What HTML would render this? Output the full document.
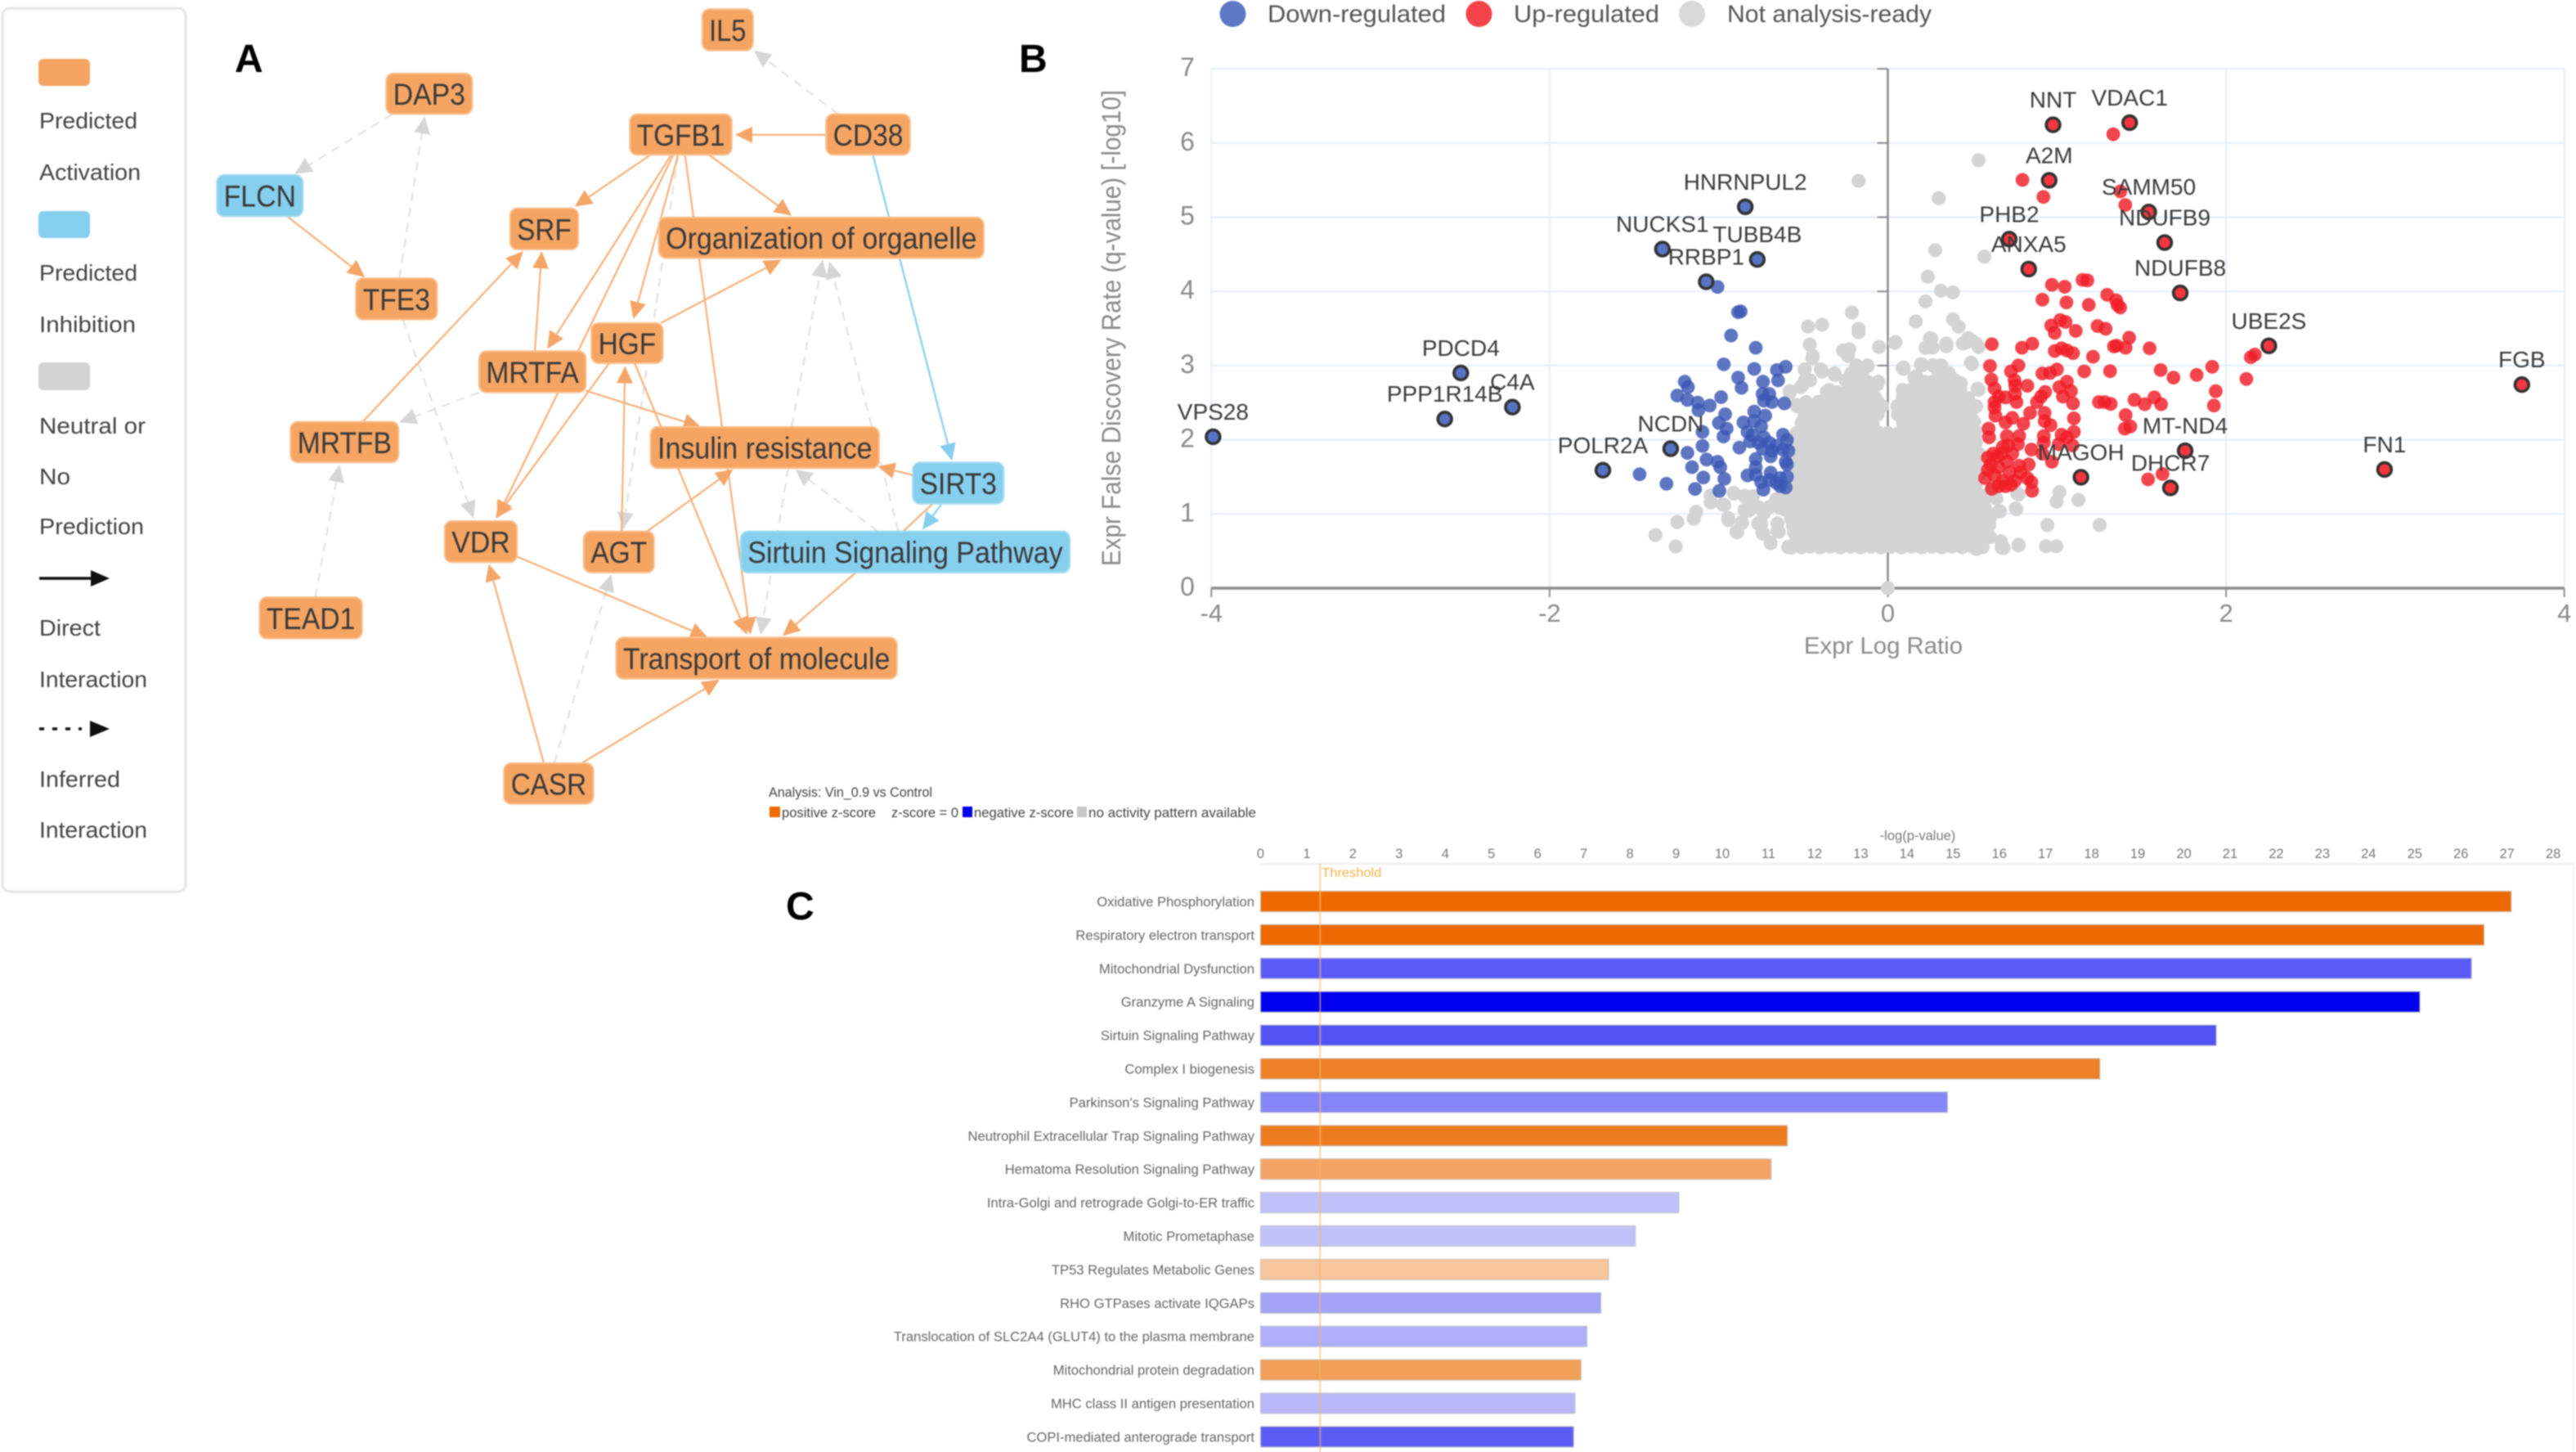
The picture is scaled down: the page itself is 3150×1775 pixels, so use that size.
<!DOCTYPE html>
<html lang="en">
<head>
<meta charset="utf-8">
<title>Network, volcano plot and pathway enrichment</title>
<style>
html,body{margin:0;padding:0;background:#fff;width:3150px;height:1775px;overflow:hidden}
svg{display:block;filter:blur(.7px)}
text{font-family:"Liberation Sans",sans-serif}
</style>
</head>
<body>
<svg id="fig" xmlns="http://www.w3.org/2000/svg" width="3150" height="1775" viewBox="0 0 3150 1775">
<rect width="3150" height="1775" fill="#fff"/>

<g>
<rect x="3" y="10" width="224" height="1080" rx="9" fill="#fff" stroke="#e6e6e6" stroke-width="3"/>
<rect x="47" y="72" width="63" height="33" rx="6" fill="#f5a462"/>
<text x="48" y="157" font-size="28" fill="#444" textLength="120" lengthAdjust="spacingAndGlyphs">Predicted</text>
<text x="48" y="220" font-size="28" fill="#444" textLength="124" lengthAdjust="spacingAndGlyphs">Activation</text>
<rect x="47" y="258" width="63" height="33" rx="6" fill="#86cfee"/>
<text x="48" y="343" font-size="28" fill="#444" textLength="120" lengthAdjust="spacingAndGlyphs">Predicted</text>
<text x="48" y="406" font-size="28" fill="#444" textLength="118" lengthAdjust="spacingAndGlyphs">Inhibition</text>
<rect x="47" y="443" width="63" height="34" rx="6" fill="#d3d3d3"/>
<text x="48" y="530" font-size="28" fill="#444" textLength="130" lengthAdjust="spacingAndGlyphs">Neutral or</text>
<text x="48" y="592" font-size="28" fill="#444" textLength="38" lengthAdjust="spacingAndGlyphs">No</text>
<text x="48" y="653" font-size="28" fill="#444" textLength="128" lengthAdjust="spacingAndGlyphs">Prediction</text>
<line x1="48" y1="707" x2="114" y2="707" stroke="#111" stroke-width="3.5"/>
<polygon points="111,697 134,707 111,717" fill="#111"/>
<text x="48" y="777" font-size="28" fill="#444" textLength="75" lengthAdjust="spacingAndGlyphs">Direct</text>
<text x="48" y="840" font-size="28" fill="#444" textLength="132" lengthAdjust="spacingAndGlyphs">Interaction</text>
<line x1="48" y1="891" x2="100" y2="891" stroke="#111" stroke-width="3.5" stroke-dasharray="6 10"/>
<polygon points="110,881 134,891 110,901" fill="#111"/>
<text x="48" y="962" font-size="28" fill="#444" textLength="99" lengthAdjust="spacingAndGlyphs">Inferred</text>
<text x="48" y="1024" font-size="28" fill="#444" textLength="132" lengthAdjust="spacingAndGlyphs">Interaction</text>
</g>

<text x="287" y="88" font-size="48" font-weight="700" fill="#000">A</text>
<text x="1246" y="88" font-size="48" font-weight="700" fill="#000">B</text>
<text x="961" y="1124" font-size="48" font-weight="700" fill="#000">C</text>

<g id="network"></g>

<g>
<circle cx="1507.5" cy="17" r="16" fill="#5d78c4"/>
<text x="1550" y="27" font-size="30" fill="#555" textLength="218" lengthAdjust="spacingAndGlyphs">Down-regulated</text>
<circle cx="1808.5" cy="17" r="16" fill="#f5434b"/>
<text x="1851" y="27" font-size="30" fill="#555" textLength="178" lengthAdjust="spacingAndGlyphs">Up-regulated</text>
<circle cx="2069" cy="17" r="16" fill="#d9d9d9"/>
<text x="2112" y="27" font-size="30" fill="#555" textLength="250" lengthAdjust="spacingAndGlyphs">Not analysis-ready</text>
</g>
<g id="volcano"></g>
<text x="0" y="0" transform="translate(1370,401) rotate(-90)" text-anchor="middle" font-size="32" fill="#8a8a8a" textLength="582" lengthAdjust="spacingAndGlyphs">Expr False Discovery Rate (q-value) [-log10]</text>
<text x="2303" y="799" text-anchor="middle" font-size="29" fill="#8a8a8a" textLength="194" lengthAdjust="spacingAndGlyphs">Expr Log Ratio</text>

<g>
<text x="940" y="974" font-size="16.5" fill="#444" textLength="200" lengthAdjust="spacingAndGlyphs">Analysis: Vin_0.9 vs Control</text>
<rect x="941" y="986" width="13" height="13" fill="#ee6a00"/>
<text x="956" y="999" font-size="16.5" fill="#444" textLength="115" lengthAdjust="spacingAndGlyphs">positive z-score</text>
<text x="1090" y="999" font-size="16.5" fill="#444" textLength="82" lengthAdjust="spacingAndGlyphs">z-score = 0</text>
<rect x="1177" y="986" width="12" height="13" fill="#0000ee"/>
<text x="1191" y="999" font-size="16.5" fill="#444" textLength="122" lengthAdjust="spacingAndGlyphs">negative z-score</text>
<rect x="1317" y="986" width="12" height="13" fill="#c8c8c8"/>
<text x="1331" y="999" font-size="16.5" fill="#444" textLength="205" lengthAdjust="spacingAndGlyphs">no activity pattern available</text>
</g>
<g id="bars"></g>
</svg>

<script>
/* ---------- Panel C data ---------- */
const pathwayNames=["Oxidative Phosphorylation","Respiratory electron transport","Mitochondrial Dysfunction","Granzyme A Signaling","Sirtuin Signaling Pathway","Complex I biogenesis","Parkinson's Signaling Pathway","Neutrophil Extracellular Trap Signaling Pathway","Hematoma Resolution Signaling Pathway","Intra-Golgi and retrograde Golgi-to-ER traffic","Mitotic Prometaphase","TP53 Regulates Metabolic Genes","RHO GTPases activate IQGAPs","Translocation of SLC2A4 (GLUT4) to the plasma membrane","Mitochondrial protein degradation","MHC class II antigen presentation","COPI-mediated anterograde transport"];
const pathwayValues=[27.09,26.5,26.23,25.11,20.7,18.18,14.88,11.41,11.06,9.06,8.12,7.54,7.37,7.07,6.94,6.81,6.78];
const pathwayColors=["#ee6a00","#ec6800","#5b5cf7","#0000ee","#5252f5","#ee8027","#8585f7","#ee7d22","#f4a566","#c0c0fb","#c2c2fb","#f7c49c","#a3a3f8","#afaff9","#f19f58","#b8b8fa","#5c5cf7"];
const pathwayTicks=[0,1,2,3,4,5,6,7,8,9,10,11,12,13,14,15,16,17,18,19,20,21,22,23,24,25,26,27,28];
const thresholdValue=1.29;

/* ---------- Panel B data: [log ratio, -log10 q] ---------- */
const xTicks=[-4,-2,0,2,4];
const yTicks=[0,1,2,3,4,5,6,7];
const labelledDown=[["VPS28",-3.99,2.04],["PDCD4",-2.525,2.9],["C4A",-2.22,2.44],["PPP1R14B",-2.62,2.28],["POLR2A",-1.685,1.59],["NCDN",-1.284,1.88],["RRBP1",-1.074,4.13],["NUCKS1",-1.333,4.57],["HNRNPUL2",-.843,5.14],["TUBB4B",-.772,4.43]];
const labelledUp=[["NNT",.977,6.245],["VDAC1",1.43,6.274],["A2M",.954,5.497],["SAMM50",1.543,5.07],["NDUFB9",1.637,4.658],["PHB2",.718,4.704],["ANXA5",.833,4.301],["NDUFB8",1.729,3.979],["UBE2S",2.253,3.266],["FGB",3.749,2.743],["FN1",2.937,1.599],["MT-ND4",1.758,1.852],["DHCR7",1.671,1.351],["MAGOH",1.142,1.495]];
const downPoints=[[-1.007,4.06],[-.87,3.73],[-.886,3.72],[-.927,3.405],[-.781,3.24],[-.97,3.017],[-.79,2.955],[-.604,2.984],[-.656,2.94],[-.649,2.8],[-.885,2.838],[-.865,2.7],[-.738,2.783],[-1.201,2.783],[-1.182,2.71],[-1.245,2.596],[-1.185,2.538],[-.986,2.574],[-1.053,2.461],[-1.124,2.501],[-1.12,2.399],[-.741,2.618],[-.701,2.618],[-.733,2.527],[-.685,2.508],[-.612,2.49],[-.79,2.38],[-.725,2.325],[-.962,2.344],[-.999,2.227],[-.854,2.234],[-.79,2.252],[-.749,2.179],[-.953,2.15],[-1.096,2.106],[-.972,2.044],[-.83,2.106],[-.62,2.069],[-.596,1.996],[-.733,2.033],[-.814,1.978],[-.765,1.96],[-.701,1.96],[-.878,1.894],[-1.096,1.916],[-1.185,1.824],[-.685,1.85],[-.62,1.868],[-.588,1.85],[-.693,1.777],[-1.072,1.733],[-1.007,1.703],[-.781,1.74],[-.604,1.703],[-.991,1.63],[-1.158,1.63],[-.781,1.63],[-.596,1.667],[-.83,1.52],[-.781,1.528],[-.693,1.557],[-.967,1.473],[-1.091,1.491],[-.636,1.484],[-.596,1.502],[-.749,1.429],[-.636,1.374],[-.604,1.356],[-.736,1.327],[-1.14,1.337],[-.996,1.312],[-1.309,1.407],[-1.468,1.535],[-.66,1.92],[-.74,1.88],[-.8,2.06],[-.66,1.42],[-.7,1.46]];
const upPoints=[[1.333,6.118],[.796,5.503],[.92,5.273],[1.375,5.348],[1.404,5.164],[.97,4.089],[1.046,4.063],[1.151,4.155],[1.18,4.148],[.914,3.888],[1.056,3.851],[1.188,3.818],[1.297,3.954],[1.35,3.88],[1.358,3.818],[1.374,3.782],[.966,3.54],[.987,3.441],[1.019,3.613],[1.051,3.588],[1.111,3.467],[1.24,3.533],[1.288,3.496],[.615,3.288],[.793,3.24],[.854,3.295],[.987,3.196],[1.027,3.233],[1.059,3.204],[1.095,3.167],[1.353,3.269],[1.406,3.24],[1.427,3.376],[1.337,3.258],[1.213,3.119],[1.548,3.233],[.604,2.995],[.772,3.002],[.728,2.922],[.914,2.893],[.959,2.9],[1,2.947],[1.161,2.922],[1.314,2.925],[1.613,2.94],[1.689,2.838],[1.826,2.874],[1.918,2.984],[.612,2.812],[.749,2.801],[.753,2.728],[.825,2.728],[1.059,2.783],[1.014,2.71],[.631,2.691],[1.083,2.655],[2.12,2.819],[2.146,3.112],[2.17,3.149],[1.939,2.655],[1.928,2.461],[.93,2.644],[.906,2.582],[1.035,2.582],[.656,2.582],[.696,2.571],[.761,2.508],[.882,2.508],[1.095,2.49],[1.248,2.508],[1.282,2.508],[1.318,2.483],[1.458,2.538],[1.519,2.479],[1.576,2.571],[1.616,2.479],[.631,2.435],[.636,2.325],[.841,2.362],[.736,2.296],[.927,2.362],[.696,2.234],[.801,2.216],[.927,2.252],[.962,2.197],[1.1,2.289],[1.406,2.333],[1.401,2.15],[1.434,2.179],[.596,2.15],[.599,2.033],[.704,2.051],[.777,2.051],[.922,2.051],[1.027,2.069],[1.1,2.106],[1.059,2.033],[.68,1.905],[.769,1.941],[.849,1.868],[.922,1.96],[1.011,1.941],[1.092,1.923],[.591,1.758],[.648,1.777],[.704,1.703],[.833,1.667],[.777,1.649],[.97,1.703],[.914,1.813],[.575,1.484],[.631,1.52],[.68,1.447],[.728,1.392],[.615,1.338],[.785,1.557],[.825,1.484],[.849,1.429],[.853,1.312],[1.539,1.466],[1.624,1.539],[.607,1.667],[.672,1.813],[.736,1.813],[.72,1.557],[.655,1.63],[.591,1.594],[.696,1.374],[.655,1.374],[.752,1.447],[.623,1.813],[.712,1.923],[.631,2.508],[.752,2.618]];
const grayPoints=[
[0,0],[-.173,5.49],[.537,5.768],[.301,5.256],[.28,4.554],[.571,4.468],[.236,4.198],[.314,4.008],[.385,3.985],[.223,3.864],[.165,3.594],[.385,3.623],[.419,3.525],[.257,3.364],[.045,3.318],[.223,3.238],[.346,3.26],[.458,3.307],[.498,3.335],[.537,3.249],[.092,2.973],[.196,3.019],[.498,3.019],[.157,2.835],[.301,2.904],[.393,2.789],[.432,2.76],[.537,2.674],[.131,2.616],[.223,2.703],
[-.472,3.526],[-.389,3.551],[-.462,3.284],[-.446,3.101],[-.212,3.716],[-.173,3.496],[-.173,3.45],[-.265,3.204],[-.228,3.22],[-.236,3.13],[-.052,3.25],[.042,3.306],[-.12,2.991],[-.171,2.93],[.093,2.955],[-.313,2.874],[-.389,2.918],[-.491,2.947],[-.491,2.8],[-.515,2.71],[-.58,2.636],[-.249,2.8],[-.063,2.746],[-.136,2.728],[-.539,2.454],[-.483,2.508],[.203,3.013],[.316,3],[.163,2.82],[.397,2.8],[.227,2.691],[.122,2.655],[.09,2.58],[.397,2.47],
[1.014,1.294],[.998,1.167],[1.127,1.19],[.76,1.064],[.663,1.035],[.943,.851],[1.252,.851],[.773,.575],[.673,.546],[.935,.564],[.996,.564],[.589,.719],[.524,.529],[.55,.891],[.616,1.351],[.773,1.265],[.642,1.208],
[-1.374,.716],[-1.254,.562],[-1.245,.891],[-1.148,.935],[-1.133,1.027],[-1.048,1.246],[-1.048,1.155],[-.967,1.118],[-.911,1.283],[-.846,1.246],[-.814,1.191],[-.943,.917],[-.862,.88],[-.891,.752],[-.749,.862],[-.736,.734],[-.693,.606],[-.652,.77],[-.822,1.045],[-.733,1.008],[-.636,1.081],[-.588,.551],[-.572,.935],[-.523,.587],[-.555,.752],[-.66,1.2],[-.6,1.22],
[-.911,1.276],[-.847,1.239],[-.976,1.129],[-.798,1.239],[-.847,1.055],[-.766,1.092],[-.702,1.092],[-.637,1.129],[-.944,.945],[-.863,.89],[-.895,.761],[-.766,.871],[-.742,.743],[-.653,.871],[-.645,.761],[-.694,.614],[-.589,.559],[-.524,.651],[-.557,.871],[-.605,1.055],[-.524,1.239],[-.524,1.423],
[.765,1.276],[.757,1.074],[.66,1.037],[.604,.945],[.62,1.239],[.572,1.092],[.604,.688],[.668,.633],[.684,.541],[.539,.559],[.773,.585],[.491,.651],[.58,1.239],[.6,.85],[.6,1],
[-.57,.55],[-.51,.55],[-.46,.56],[-.4,.55],[-.34,.56],[-.28,.55],[-.22,.56],[-.16,.55],[-.1,.56],[-.04,.55],[.02,.56],[.08,.55],[.14,.56],[.2,.55],[.26,.56],[.32,.55],[.38,.56],[.44,.55],[.5,.56],[.56,.55],
[-.54,.69],[-.48,.68],[-.42,.7],[-.37,.69],[-.31,.68],[-.25,.7],[-.19,.69],[-.13,.68],[-.07,.7],[-.01,.69],[.05,.68],[.11,.7],[.17,.69],[.23,.68],[.29,.7],[.35,.69],[.41,.68],[.47,.7],[.53,.69],
[-.56,.83],[-.5,.82],[-.45,.84],[-.39,.83],[-.33,.82],[-.27,.84],[-.21,.83],[-.15,.82],[-.09,.84],[-.03,.83],[.03,.82],[.09,.84],[.15,.83],[.21,.82],[.27,.84],[.33,.83],[.39,.82],[.45,.84],[.51,.83],[.57,.82],
[-.53,.97],[-.47,.96],[-.41,.98],[-.36,.97],[-.3,.96],[-.24,.98],[-.18,.97],[-.12,.96],[-.06,.98],[0,.97],[.06,.96],[.12,.98],[.18,.97],[.24,.96],[.3,.98],[.36,.97],[.42,.96],[.48,.98],[.54,.97],
[-.56,1.11],[-.5,1.1],[-.44,1.12],[-.38,1.11],[-.32,1.1],[-.26,1.12],[-.2,1.11],[-.14,1.1],[-.08,1.12],[-.02,1.11],[.04,1.1],[.1,1.12],[.16,1.11],[.22,1.1],[.28,1.12],[.34,1.11],[.4,1.1],[.46,1.12],[.52,1.11],[.57,1.1],
[-.53,1.25],[-.47,1.24],[-.41,1.26],[-.35,1.25],[-.29,1.24],[-.23,1.26],[-.17,1.25],[-.11,1.24],[-.05,1.26],[.01,1.25],[.07,1.24],[.13,1.26],[.19,1.25],[.25,1.24],[.31,1.26],[.37,1.25],[.43,1.24],[.49,1.26],[.55,1.25],
[-.56,1.39],[-.5,1.38],[-.44,1.4],[-.38,1.39],[-.32,1.38],[-.26,1.4],[-.2,1.39],[-.14,1.38],[-.08,1.4],[-.02,1.39],[.04,1.38],[.1,1.4],[.16,1.39],[.22,1.38],[.28,1.4],[.34,1.39],[.4,1.38],[.46,1.4],[.52,1.39],
[-.53,1.53],[-.47,1.52],[-.41,1.54],[-.35,1.53],[-.29,1.52],[-.23,1.54],[-.17,1.53],[-.11,1.52],[-.05,1.54],[.01,1.53],[.07,1.52],[.13,1.54],[.19,1.53],[.25,1.52],[.31,1.54],[.37,1.53],[.43,1.52],[.49,1.54],[.54,1.53],
[-.56,1.67],[-.5,1.66],[-.44,1.68],[-.38,1.67],[-.32,1.66],[-.26,1.68],[-.2,1.67],[-.14,1.66],[-.08,1.68],[-.02,1.67],[.04,1.66],[.1,1.68],[.16,1.67],[.22,1.66],[.28,1.68],[.34,1.67],[.4,1.66],[.46,1.68],[.52,1.67],
[-.53,1.81],[-.47,1.8],[-.41,1.82],[-.35,1.81],[-.29,1.8],[-.23,1.82],[-.17,1.81],[-.11,1.8],[-.05,1.82],[.01,1.81],[.07,1.8],[.13,1.82],[.19,1.81],[.25,1.8],[.31,1.82],[.37,1.81],[.43,1.8],[.49,1.82],[.54,1.81],
[-.56,1.95],[-.5,1.94],[-.44,1.96],[-.38,1.95],[-.32,1.94],[-.26,1.96],[-.2,1.95],[-.14,1.94],[-.08,1.96],[-.02,1.95],[.04,1.94],[.1,1.96],[.16,1.95],[.22,1.94],[.28,1.96],[.34,1.95],[.4,1.94],[.46,1.96],[.52,1.95],
[-.54,2.09],[-.48,2.08],[-.42,2.1],[-.36,2.09],[-.3,2.08],[-.24,2.1],[-.18,2.09],[-.12,2.08],[-.06,2.1],[0,2.09],[.06,2.08],[.12,2.1],[.18,2.09],[.24,2.08],[.3,2.1],[.36,2.09],[.42,2.08],[.48,2.1],[.53,2.09],
[-.51,2.23],[-.45,2.22],[-.39,2.24],[-.33,2.23],[-.27,2.22],[-.21,2.24],[-.15,2.23],[-.09,2.22],[.09,2.23],[.15,2.24],[.21,2.22],[.27,2.23],[.33,2.24],[.39,2.22],[.45,2.23],[.51,2.24],
[-.492,2.341],[-.428,2.341],[-.363,2.341],[-.299,2.341],[-.234,2.341],[-.17,2.341],[-.105,2.341],[-.06,2.341],[.06,2.341],[.104,2.341],[.169,2.341],[.233,2.341],[.298,2.341],[.362,2.341],[.427,2.341],[.491,2.341],
[-.44,2.37],[-.38,2.36],[-.32,2.38],[-.26,2.37],[-.2,2.36],[-.14,2.38],[-.08,2.37],[.07,2.36],[.13,2.38],[.19,2.37],[.25,2.36],[.31,2.38],[.37,2.37],[.43,2.36],[.49,2.38],
[-.363,2.452],[-.299,2.452],[-.234,2.452],[-.154,2.452],[-.089,2.452],[-.033,2.452],[.056,2.452],[.12,2.452],[.185,2.452],[.265,2.452],[.33,2.452],[.394,2.452],[.459,2.452],[.523,2.452],
[-.41,2.51],[-.35,2.5],[-.29,2.52],[-.23,2.51],[-.17,2.5],[-.11,2.52],[-.06,2.51],[.1,2.5],[.16,2.52],[.22,2.51],[.28,2.5],[.34,2.52],[.4,2.51],[.46,2.5],
[-.363,2.562],[-.299,2.562],[-.202,2.562],[-.138,2.562],[-.073,2.562],[.088,2.562],[.153,2.562],[.233,2.562],[.298,2.562],[.362,2.562],[.41,2.562],[.475,2.562],
[-.36,2.65],[-.3,2.64],[-.24,2.66],[-.18,2.65],[-.12,2.64],[.17,2.64],[.27,2.66],[.33,2.64],[.39,2.65],
[-.347,2.672],[-.17,2.672],[-.105,2.672],[.088,2.672],[.136,2.672],[.217,2.672],[.281,2.672],[.33,2.672],[.427,2.672],[.531,2.691],
[-.186,2.782],[-.121,2.782],[-.057,2.782],[.169,2.856],[.217,2.782],[.265,2.782],[.346,2.782],[.394,2.782],
[-.315,2.893],[-.218,2.893],[-.154,2.893],[.33,2.893],[.362,2.893],
[-.121,3.003],[-.186,3.003],[.201,3.003],[.265,3.003],[.314,3.003],[.088,2.966],[.491,3.04],
[-.492,2.948],[-.396,2.948],[-.444,3.132],[-.581,2.654],[-.541,2.47],[-.508,2.727],[-.46,2.801],
[.233,3.242],[.265,3.242],[.249,3.37],[.475,3.37],[.346,3.297],[.443,3.297],[.523,3.297]
];

/* ---------- Panel A data (read in 1568x1568 crop units, scaled below) ---------- */
const networkNodes=[["IL5",1020,1094,18,90,"o"],["DAP3",561,686,130,201,"o"],["TGFB1",915,1063,201,272,"o"],["CD38",1200,1322,201,272,"o"],["FLCN",315,440,307,379,"b"],["SRF",741,840,365,437,"o"],["Organization of organelle",957,1429,381,452,"o"],["TFE3",517,635,487,559,"o"],["HGF",859,963,565,635,"o"],["MRTFA",696,851,614,686,"o"],["MRTFB",422,579,737,808,"o"],["Insulin resistance",945,1277,746,818,"o"],["SIRT3",1326,1458,808,880,"b"],["VDR",646,751,910,982,"o"],["AGT",848,950,928,1000,"o"],["Sirtuin Signaling Pathway",1076,1554,928,1000,"b"],["TEAD1",377,526,1043,1115,"o"],["Transport of molecule",895,1303,1113,1185,"o"],["CASR",732,862,1332,1403,"o"]];
const directEdges=[[1200,237,1068,237],[945,272,835,362],[1030,272,1150,378],[975,272,795,610],[978,272,722,905],[985,272,920,558],[995,272,1090,1108],[417,379,530,485],[777,614,787,440],[527,737,760,440],[960,565,1135,455],[885,635,720,905],[922,635,1085,1108],[851,683,1018,746],[903,928,908,640],[940,928,1065,820],[1326,830,1275,815],[751,972,1028,1113],[790,1332,710,985],[845,1332,1045,1187],[1243,1000,1137,1110]];
const plainEdges=[[1355,880,1312,928]];
const inhibitEdges=[[1268,272,1383,805],[1368,880,1340,925]];
const inferredEdges=[[1218,201,1095,90],[570,201,428,305],[580,487,617,205],[585,559,688,905],[696,686,580,738],[458,1043,493,812],[985,272,905,925],[1150,746,1195,455],[1305,928,1205,458],[1275,928,1155,820],[1145,818,1105,1108],[805,1332,888,1003]];

const NS="http://www.w3.org/2000/svg";
function mk(parent,tag,attrs,txt){
  const el=document.createElementNS(NS,tag);
  for(const k in attrs){el.setAttribute(k,attrs[k]);}
  if(txt!==undefined){el.textContent=txt;}
  parent.appendChild(el);
  return el;
}
const slug=s=>String(s).toLowerCase().replace(/[^a-z0-9]+/g,'-');

/* ---------- Network ---------- */
const net=document.getElementById('network');
const nx=v=>v*0.8418, ny=v=>v*0.7015-1.5;
function drawEdge(e,color,head,dash,name){
  const x1=nx(e[0]),y1=ny(e[1]),x2=nx(e[2]),y2=ny(e[3]);
  const d=Math.hypot(x2-x1,y2-y1),ux=(x2-x1)/d,uy=(y2-y1)/d;
  const L=head?21:0,W=10;
  const bx=x2-ux*L,by=y2-uy*L;
  const a={x1:x1,y1:y1,x2:bx,y2:by,stroke:color,'stroke-width':2.2};
  if(dash){a['stroke-dasharray']=dash;}
  const ln=mk(net,'line',a);
  
  
  if(head){
    const hd=mk(net,'polygon',{points:`${x2},${y2} ${bx-uy*W},${by+ux*W} ${bx+uy*W},${by-ux*W}`,fill:head});
    
    
  }
}
inferredEdges.forEach(e=>drawEdge(e,'#e2e2e2','#d6d6d6','11 8','inferred-edge'));
directEdges.forEach(e=>drawEdge(e,'#f6b07a','#f5a566',null,'activation-edge'));
plainEdges.forEach(e=>drawEdge(e,'#f6b07a',null,null,'activation-edge'));
inhibitEdges.forEach(e=>drawEdge(e,'#86cfee','#86cfee',null,'inhibition-edge'));
networkNodes.forEach(n=>{
  const x=nx(n[1]),w=nx(n[2])-x,y=ny(n[3]),h=ny(n[4])-y;
  const fill=n[5]==='b'?'#86cfee':'#f5a462';
  const edge=n[5]==='b'?'#a6dcf3':'#f9c292';
  const r=mk(net,'rect',{x:x,y:y,width:w,height:h,rx:9,fill:fill,stroke:edge,'stroke-width':2});
  
  
  const t=mk(net,'text',{x:x+w/2,y:y+h/2+13.5,'text-anchor':'middle','font-size':37,fill:'#3a3a3a',textLength:w-17,lengthAdjust:'spacingAndGlyphs'},n[0]);
  
  
});

/* ---------- Volcano ---------- */
const vol=document.getElementById('volcano');
const xV=v=>2308.5+v*206.8, yV=v=>719-v*90.7;
const xL=xV(-4), xR=xV(4), yT=yV(7), yB=yV(0);
yTicks.forEach(t=>{
  const g=mk(vol,'line',{x1:xL,x2:xR,y1:yV(t),y2:yV(t),stroke:'#e6edf8','stroke-width':2});
  
  
});
xTicks.filter(t=>t!==0).forEach(t=>{
  const g=mk(vol,'line',{x1:xV(t),x2:xV(t),y1:yT,y2:yB,stroke:'#e6edf8','stroke-width':2});
  
  
});
const yAxis=mk(vol,'line',{x1:xV(0),x2:xV(0),y1:yT,y2:yB,stroke:'#8c8c8c','stroke-width':2.5});


const xAxis=mk(vol,'line',{x1:xL,x2:xR,y1:yB,y2:yB,stroke:'#8c8c8c','stroke-width':3.5});


yTicks.forEach(t=>{
  const k=mk(vol,'line',{x1:xV(0)-13,x2:xV(0),y1:yV(t),y2:yV(t),stroke:'#8c8c8c','stroke-width':2});
  
  
  const l=mk(vol,'text',{x:1452,y:yV(t)+9,'text-anchor':'middle','font-size':32,fill:'#8a8a8a'},t);
  
  
});
xTicks.forEach(t=>{
  const k=mk(vol,'line',{x1:xV(t),x2:xV(t),y1:yB,y2:yB+11,stroke:'#8c8c8c','stroke-width':2});
  
  
  const l=mk(vol,'text',{x:xV(t),y:760,'text-anchor':'middle','font-size':31,fill:'#8a8a8a'},t);
  
  
});
grayPoints.forEach(p=>{
  const c=mk(vol,'circle',{cx:xV(p[0]),cy:yV(p[1]),r:8.6,fill:'#d4d4d4'});
  
  
});
downPoints.forEach(p=>{
  const c=mk(vol,'circle',{cx:xV(p[0]),cy:yV(p[1]),r:8.4,fill:'#3a58b4','fill-opacity':.82});
  
  
});
upPoints.forEach(p=>{
  const c=mk(vol,'circle',{cx:xV(p[0]),cy:yV(p[1]),r:8.4,fill:'#f01c26','fill-opacity':.82});
  
  
});
function labelled(list,fill){
  list.forEach(p=>{
    const c=mk(vol,'circle',{cx:xV(p[1]),cy:yV(p[2]),r:8.4,fill:fill,stroke:'#333','stroke-width':3.6});
    
    
  });
}
labelled(labelledDown,'#5673c4');
labelled(labelledUp,'#f5363e');
labelledDown.concat(labelledUp).forEach(p=>{
  const t=mk(vol,'text',{x:xV(p[1]),y:yV(p[2])-21,'text-anchor':'middle','font-size':28,fill:'#3c3c3c'},p[0]);
  
  
});

/* ---------- Bars ---------- */
const bc=document.getElementById('bars');
const xB=v=>1541.5+v*56.45;
const yBand=i=>1089.5+i*40.9;
const barH=25;
const topAxis=mk(bc,'line',{x1:xB(0),x2:3147,y1:1056,y2:1056,stroke:'#ececec','stroke-width':2});


const rightEdge=mk(bc,'line',{x1:3147,x2:3147,y1:1056,y2:1775,stroke:'#f3f3f3','stroke-width':2});


pathwayTicks.forEach(t=>{
  const l=mk(bc,'text',{x:xB(t),y:1049,'text-anchor':'middle','font-size':16.5,fill:'#777'},t);
  
  
});
const axisTitle=mk(bc,'text',{x:2345,y:1027,'text-anchor':'middle','font-size':16.5,fill:'#777'},'-log(p-value)');


pathwayNames.forEach((n,i)=>{
  const t=mk(bc,'text',{x:1534,y:yBand(i)+barH/2+6,'text-anchor':'end','font-size':16.6,fill:'#666'},n);
  
  
  const r=mk(bc,'rect',{x:xB(0),y:yBand(i),width:xB(pathwayValues[i])-xB(0),height:barH,fill:pathwayColors[i],stroke:'#b9b9b9','stroke-opacity':.55,'stroke-width':1.5});
  
  
});
const thr=mk(bc,'line',{x1:xB(thresholdValue),x2:xB(thresholdValue),y1:1056,y2:1775,stroke:'#f9b560','stroke-width':2,'stroke-opacity':.6});


const thrT=mk(bc,'text',{x:xB(thresholdValue)+2,y:1072,'font-size':15.5,fill:'#f5b14a',textLength:73,lengthAdjust:'spacingAndGlyphs'},'Threshold');


</script>
</body>
</html>
